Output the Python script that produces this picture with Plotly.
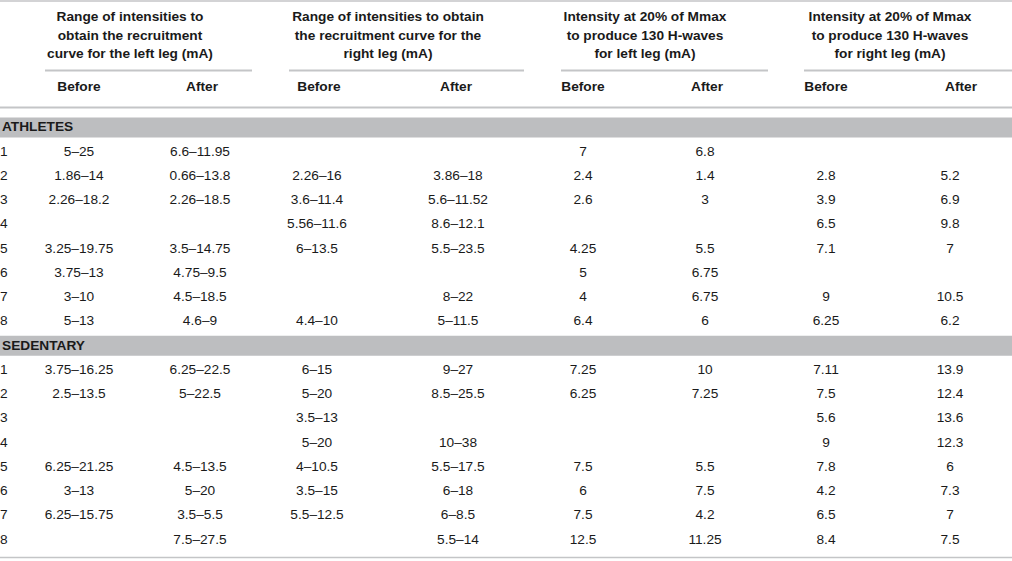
import plotly.graph_objects as go

# header texts
group_titles = [
    ["Range of intensities to", "obtain the recruitment", "curve for the left leg (mA)"],
    ["Range of intensities to obtain", "the recruitment curve for the", "right leg (mA)"],
    ["Intensity at 20% of Mmax", "to produce 130 H-waves", "for left leg (mA)"],
    ["Intensity at 20% of Mmax", "to produce 130 H-waves", "for right leg (mA)"],
]
sub_headers = ["Before", "After", "Before", "After", "Before", "After", "Before", "After"]
groups = ["ATHLETES", "SEDENTARY"]
subjects = ["1", "2", "3", "4", "5", "6", "7", "8"]

# athletes
left_before_a = ["5–25", "1.86–14", "2.26–18.2", "", "3.25–19.75", "3.75–13", "3–10", "5–13"]
left_after_a = ["6.6–11.95", "0.66–13.8", "2.26–18.5", "", "3.5–14.75", "4.75–9.5", "4.5–18.5", "4.6–9"]
right_before_a = ["", "2.26–16", "3.6–11.4", "5.56–11.6", "6–13.5", "", "", "4.4–10"]
right_after_a = ["", "3.86–18", "5.6–11.52", "8.6–12.1", "5.5–23.5", "", "8–22", "5–11.5"]
hl_before_a = ["7", "2.4", "2.6", "", "4.25", "5", "4", "6.4"]
hl_after_a = ["6.8", "1.4", "3", "", "5.5", "6.75", "6.75", "6"]
hr_before_a = ["", "2.8", "3.9", "6.5", "7.1", "", "9", "6.25"]
hr_after_a = ["", "5.2", "6.9", "9.8", "7", "", "10.5", "6.2"]

# sedentary
left_before_s = ["3.75–16.25", "2.5–13.5", "", "", "6.25–21.25", "3–13", "6.25–15.75", ""]
left_after_s = ["6.25–22.5", "5–22.5", "", "", "4.5–13.5", "5–20", "3.5–5.5", "7.5–27.5"]
right_before_s = ["6–15", "5–20", "3.5–13", "5–20", "4–10.5", "3.5–15", "5.5–12.5", ""]
right_after_s = ["9–27", "8.5–25.5", "", "10–38", "5.5–17.5", "6–18", "6–8.5", "5.5–14"]
hl_before_s = ["7.25", "6.25", "", "", "7.5", "6", "7.5", "12.5"]
hl_after_s = ["10", "7.25", "", "", "5.5", "7.5", "4.2", "11.25"]
hr_before_s = ["7.11", "7.5", "5.6", "9", "7.8", "4.2", "6.5", "8.4"]
hr_after_s = ["13.9", "12.4", "13.6", "12.3", "6", "7.3", "7", "7.5"]

columns_a = [left_before_a, left_after_a, right_before_a, right_after_a,
             hl_before_a, hl_after_a, hr_before_a, hr_after_a]
columns_s = [left_before_s, left_after_s, right_before_s, right_after_s,
             hl_before_s, hl_after_s, hr_before_s, hr_after_s]

# layout (pixels)
W, H = 1012, 561
FONT = "Liberation Sans, Arial, Helvetica, sans-serif"
FS = 13.7
TXT = "#1a1a1a"
LINE = "#c4c5c7"
BAND = "#bdbec0"
ROW0, ROW_H = 128, 24.24
group_x = [130, 388, 645, 890]
group_line = [(45, 252), (289, 524), (561, 768), (804, 1012)]
title_y = [18, 37, 55]
sub_x = [79, 202, 319, 456, 583, 707, 826, 961]
data_x = [79, 200, 317, 458, 583, 705, 826, 950]


def row_y(k):
    return ROW0 + k * ROW_H


fig = go.Figure()

# group header lines
for g, lines in enumerate(group_titles):
    fig.add_trace(go.Scatter(
        x=[group_x[g]] * len(lines), y=title_y, text=["<b>%s</b>" % t for t in lines],
        mode="text", textposition="middle center",
        textfont=dict(family=FONT, size=FS, color=TXT), hoverinfo="skip"))

fig.add_trace(go.Scatter(
    x=sub_x, y=[88] * len(sub_headers), text=["<b>%s</b>" % t for t in sub_headers],
    mode="text", textposition="middle center",
    textfont=dict(family=FONT, size=FS, color=TXT), hoverinfo="skip"))

shapes = []
# rules
for y0, w in [(1, 1.5), (107.5, 2), (557.5, 1.5)]:
    shapes.append(dict(type="line", x0=0, x1=W, y0=y0, y1=y0, xref="x", yref="y",
                       line=dict(color=LINE, width=w)))
for a, b in group_line:
    shapes.append(dict(type="line", x0=a, x1=b, y0=70.5, y1=70.5, xref="x", yref="y",
                       line=dict(color=LINE, width=2)))

for gi, (gname, cols) in enumerate(zip(groups, [columns_a, columns_s])):
    k0 = gi * 9
    yb = row_y(k0)
    shapes.append(dict(type="rect", x0=0, x1=W, y0=yb - 10.5, y1=yb + 9.5, xref="x", yref="y",
                       line=dict(width=0), fillcolor=BAND, layer="below"))
    fig.add_trace(go.Scatter(
        x=[2], y=[yb], text=["<b>%s</b>" % gname], mode="text", textposition="middle right",
        textfont=dict(family=FONT, size=FS, color=TXT), hoverinfo="skip"))
    ys = [row_y(k0 + 1 + i) for i in range(len(subjects))]
    fig.add_trace(go.Scatter(
        x=[0] * len(subjects), y=ys, text=subjects, mode="text", textposition="middle right",
        textfont=dict(family=FONT, size=FS, color=TXT), hoverinfo="skip"))
    for c, vals in enumerate(cols):
        fig.add_trace(go.Scatter(
            x=[data_x[c]] * len(vals), y=ys, text=vals, mode="text",
            textposition="middle center",
            textfont=dict(family=FONT, size=FS, color=TXT), hoverinfo="skip"))

fig.update_layout(
    width=W, height=H, margin=dict(l=0, r=0, t=0, b=0),
    paper_bgcolor="white", plot_bgcolor="white", showlegend=False,
    shapes=shapes,
    xaxis=dict(range=[0, W], visible=False, fixedrange=True),
    yaxis=dict(range=[H, 0], visible=False, fixedrange=True),
)

fig.write_html("out.html", config={"displayModeBar": False},
               post_script="document.body.style.margin='0';document.body.style.overflow='hidden';")
